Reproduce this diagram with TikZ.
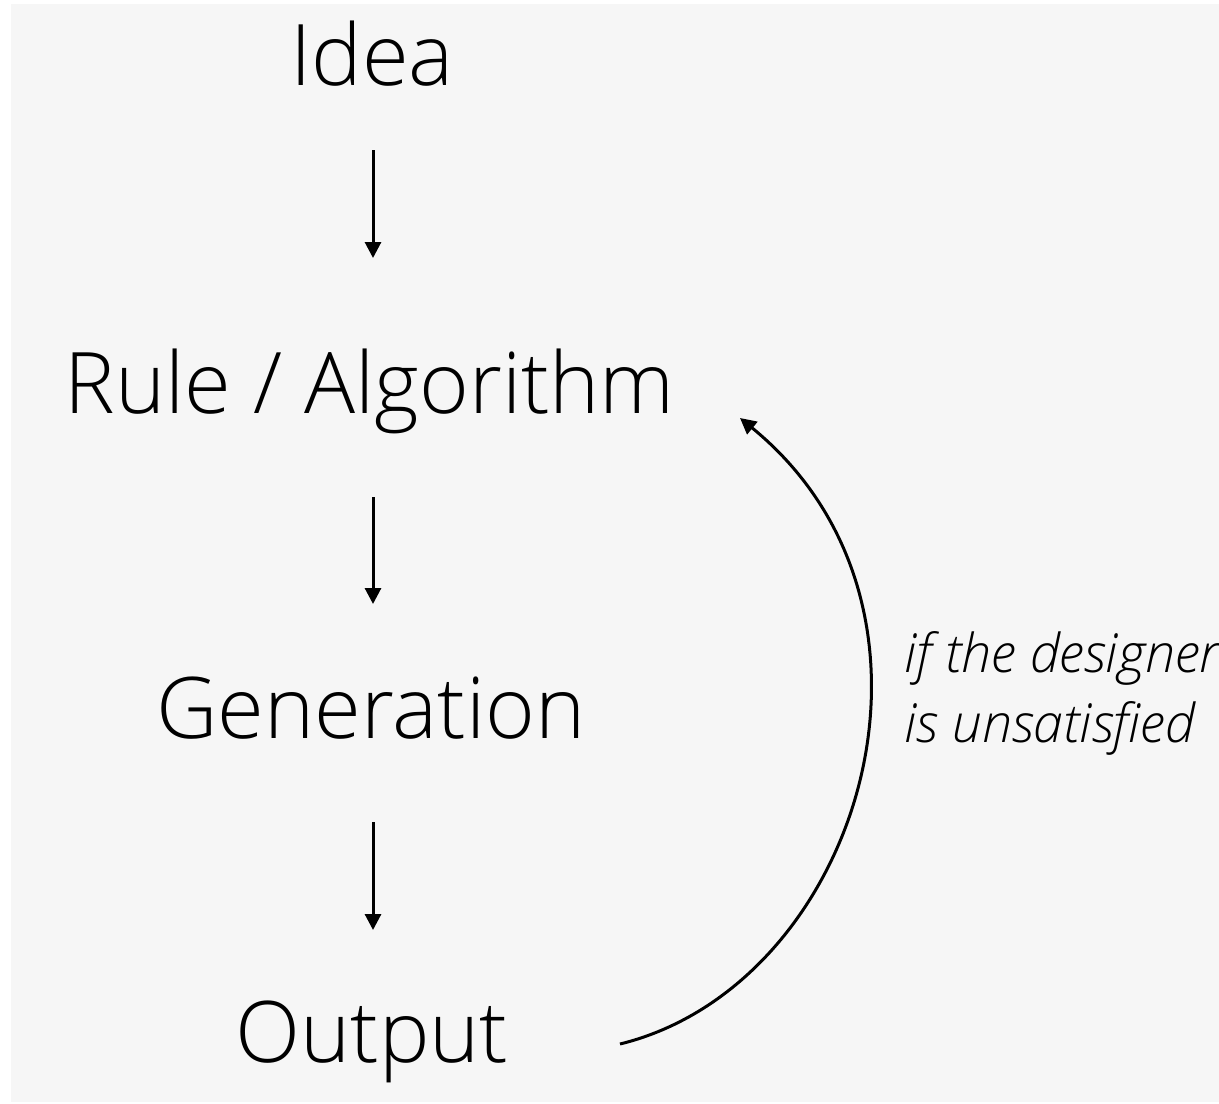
\documentclass[tikz,border=0pt]{standalone}
\usepackage{fontspec}
\IfFontExistsTF{Open Sans Light}{\setmainfont{Open Sans Light}}{%
  \IfFontExistsTF{Fira Sans Light}{\setmainfont{Fira Sans Light}}{%
    \IfFontExistsTF{Lato Light}{\setmainfont{Lato Light}}{\setmainfont{Open Sans}}}}
\usetikzlibrary{arrows.meta}
\definecolor{paper}{HTML}{F6F6F6}
\tikzset{
  stage/.style={anchor=base, inner sep=0pt, font=\fontsize{42.5}{50}\selectfont},
  flow/.style={line width=1.5pt, -{Triangle[width=8pt,length=8pt]}},
  note/.style={anchor=base west, inner sep=0pt, align=left,
    font=\fontsize{26.8}{35}\selectfont\itshape}
}
\begin{document}
\begin{tikzpicture}[x=.5pt,y=-.5pt]
\useasboundingbox (0,0) rectangle (1219,1103);
\fill[paper] (11,4) rectangle (1219,1102);

\node[stage] (idea) at (372,85) {Idea};
\node[stage] (rule) at (370,413) {Rule / Algorithm};
\node[stage] (gen) at (371,738) {Generation};
\node[stage] (out) at (372,1062) {Output};
\node[note] (cond) at (904,742) {if the designer\\is unsatisfied};

\draw[flow, shorten <=32.5pt, shorten >=77.5pt] ([xshift=.5pt]idea.base) -- ([xshift=.5pt]idea.base |- rule.base);
\draw[flow, shorten <=42pt, shorten >=67pt] ([xshift=1.5pt]rule.base) -- ([xshift=1.5pt]rule.base |- gen.base);
\draw[flow, shorten <=42pt, shorten >=66pt] ([xshift=1pt]gen.base) -- ([xshift=1pt]gen.base |- out.base);
\draw[flow] ([shift={(248,-18)}]out.base) .. controls +(240,-59) and +(235,192) .. ([shift={(370,5)}]rule.base);
\end{tikzpicture}
\end{document}
